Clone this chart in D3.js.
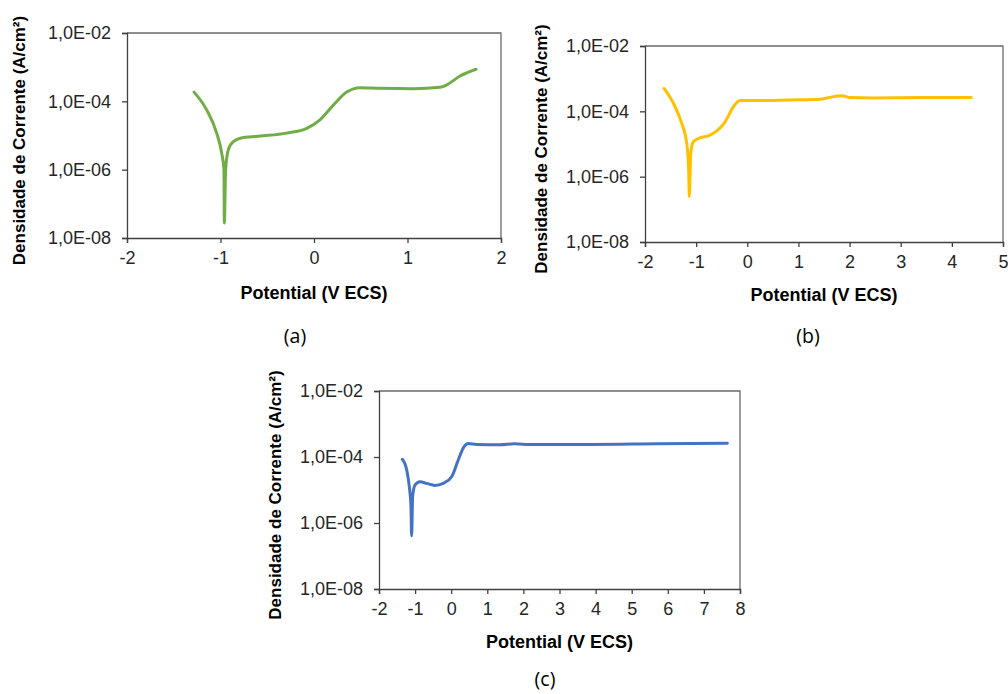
<!DOCTYPE html>
<html>
<head>
<meta charset="utf-8">
<script src="https://cdn.jsdelivr.net/npm/d3@7"></script>
<style>
  html, body { margin: 0; padding: 0; background: #fff; }
  svg { display: block; }
</style>
</head>
<body>
<svg id="chart" width="1008" height="694"></svg>
<script>
// ---- Data ----
const yTickValues = [1e-8, 1e-6, 1e-4, 1e-2];
const yTickLabels = ["1,0E-08", "1,0E-06", "1,0E-04", "1,0E-02"];
const xTitle = "Potential (V ECS)";
const yTitle = "Densidade de Corrente (A/cm²)";

// Panel (a)
const aTicks = [-2, -1, 0, 1, 2];
const aPotential = [-1.283, -1.148, -1.041, -0.987, -0.963, -0.959, -0.945, -0.917, -0.863, -0.756, -0.542, -0.292, -0.078, 0.064, 0.207, 0.350, 0.492, 0.706, 1.062, 1.348, 1.419, 1.561, 1.733];
const aLogCurrent = [-3.73, -4.25, -4.93, -5.52, -6.0, -7.56, -6.0, -5.42, -5.18, -5.06, -5.01, -4.93, -4.79, -4.54, -4.11, -3.73, -3.60, -3.62, -3.63, -3.59, -3.52, -3.26, -3.06];

// Panel (b)
const bTicks = [-2, -1, 0, 1, 2, 3, 4, 5];
const bPotential = [-1.628, -1.446, -1.282, -1.184, -1.145, -1.133, -1.106, -1.055, -0.924, -0.761, -0.597, -0.434, -0.272, -0.141, 0.186, 0.838, 1.425, 1.686, 1.849, 2.012, 2.468, 3.447, 4.380];
const bLogCurrent = [-3.30, -3.75, -4.37, -4.98, -5.80, -6.61, -5.28, -4.93, -4.81, -4.75, -4.60, -4.32, -3.86, -3.67, -3.67, -3.65, -3.63, -3.55, -3.52, -3.58, -3.59, -3.58, -3.58];

// Panel (c)
const cTicks = [-2, -1, 0, 1, 2, 3, 4, 5, 6, 7, 8];
const cPotential = [-1.355, -1.233, -1.160, -1.114, -1.096, -1.068, -1.004, -0.865, -0.680, -0.450, -0.220, 0.012, 0.195, 0.353, 0.472, 0.704, 1.349, 1.764, 2.180, 3.840, 5.690, 7.650];
const cLogCurrent = [-4.07, -4.39, -4.90, -5.51, -6.39, -5.20, -4.85, -4.75, -4.80, -4.86, -4.80, -4.60, -4.09, -3.69, -3.59, -3.62, -3.63, -3.60, -3.62, -3.62, -3.60, -3.58];

const panels = [
  { id: "(a)", ticks: aTicks, xs: aPotential, ys: aLogCurrent, color: "#70AD47",
    box: { l: 127, r: 501, t: 33, b: 238 }, yTitleX: 21, xTitleY: 294, label: [295, 338] },
  { id: "(b)", ticks: bTicks, xs: bPotential, ys: bLogCurrent, color: "#FFC000",
    box: { l: 645, r: 1003, t: 46, b: 242 }, yTitleX: 543, xTitleY: 296, label: [808, 338] },
  { id: "(c)", ticks: cTicks, xs: cPotential, ys: cLogCurrent, color: "#4472C4",
    box: { l: 379, r: 740, t: 391, b: 589 }, yTitleX: 277, xTitleY: 643, label: [545, 681] }
];

const svg = d3.select("#chart");
const tickFont = "'Liberation Sans', Arial, sans-serif";
const axisColor = "#404040";

panels.forEach(p => {
  const B = p.box;
  const x = d3.scaleLinear().domain([p.ticks[0], p.ticks[p.ticks.length - 1]]).range([B.l, B.r]);
  const y = d3.scaleLog().domain([1e-8, 1e-2]).range([B.b, B.t]);
  const g = svg.append("g");

  // plot border (top / right)
  g.append("path")
    .attr("d", `M${B.l},${B.t}H${B.r}V${B.b}`)
    .attr("fill", "none").attr("stroke", "#6a6a6a").attr("stroke-width", 1.3);

  // y axis
  const yAxis = d3.axisLeft(y).tickValues(yTickValues)
    .tickFormat((d, i) => yTickLabels[i]).tickSize(5).tickPadding(11);
  const gy = g.append("g").attr("transform", `translate(${B.l},0)`).call(yAxis);
  gy.select(".domain").attr("stroke", axisColor).attr("stroke-width", 1.3);
  gy.selectAll(".tick line").attr("stroke", axisColor).attr("stroke-width", 1.3);
  gy.selectAll(".tick text").attr("font-family", tickFont).attr("font-size", 18).attr("fill", "#262626");

  // x axis
  const xAxis = d3.axisBottom(x).tickValues(p.ticks).tickFormat(d3.format("d")).tickSize(5).tickPadding(8);
  const gx = g.append("g").attr("transform", `translate(0,${B.b})`).call(xAxis);
  gx.select(".domain").attr("stroke", axisColor).attr("stroke-width", 1.3);
  gx.selectAll(".tick line").attr("stroke", axisColor).attr("stroke-width", 1.3);
  gx.selectAll(".tick text").attr("font-family", tickFont).attr("font-size", 18).attr("fill", "#262626")
    .text(d => d < 0 ? "-" + Math.abs(d) : String(d));

  // curve
  const pts = p.xs.map((v, i) => [v, Math.pow(10, p.ys[i])]);
  const line = d3.line().x(d => x(d[0])).y(d => y(d[1])).curve(d3.curveMonotoneX);
  g.append("path").datum(pts).attr("d", line)
    .attr("fill", "none").attr("stroke", p.color).attr("stroke-width", 3)
    .attr("stroke-linejoin", "round").attr("stroke-linecap", "round");

  // axis titles
  g.append("text").text(xTitle)
    .attr("x", (B.l + B.r) / 2).attr("y", p.xTitleY)
    .attr("text-anchor", "middle").attr("dominant-baseline", "middle")
    .attr("font-family", tickFont).attr("font-weight", "bold").attr("font-size", 18).attr("fill", "#000");

  g.append("text").text(yTitle)
    .attr("transform", `translate(${p.yTitleX},${(B.t + B.b) / 2 + 5}) rotate(-90)`)
    .attr("text-anchor", "middle").attr("dominant-baseline", "middle")
    .attr("font-family", tickFont).attr("font-weight", "bold").attr("font-size", 17).attr("fill", "#000");

  // panel label
  svg.append("text").text(p.id)
    .attr("x", p.label[0]).attr("y", p.label[1])
    .attr("text-anchor", "middle").attr("dominant-baseline", "middle")
    .attr("font-family", "'Open Sans', sans-serif").attr("font-size", 19.5).attr("fill", "#000");
});
</script>
</body>
</html>
